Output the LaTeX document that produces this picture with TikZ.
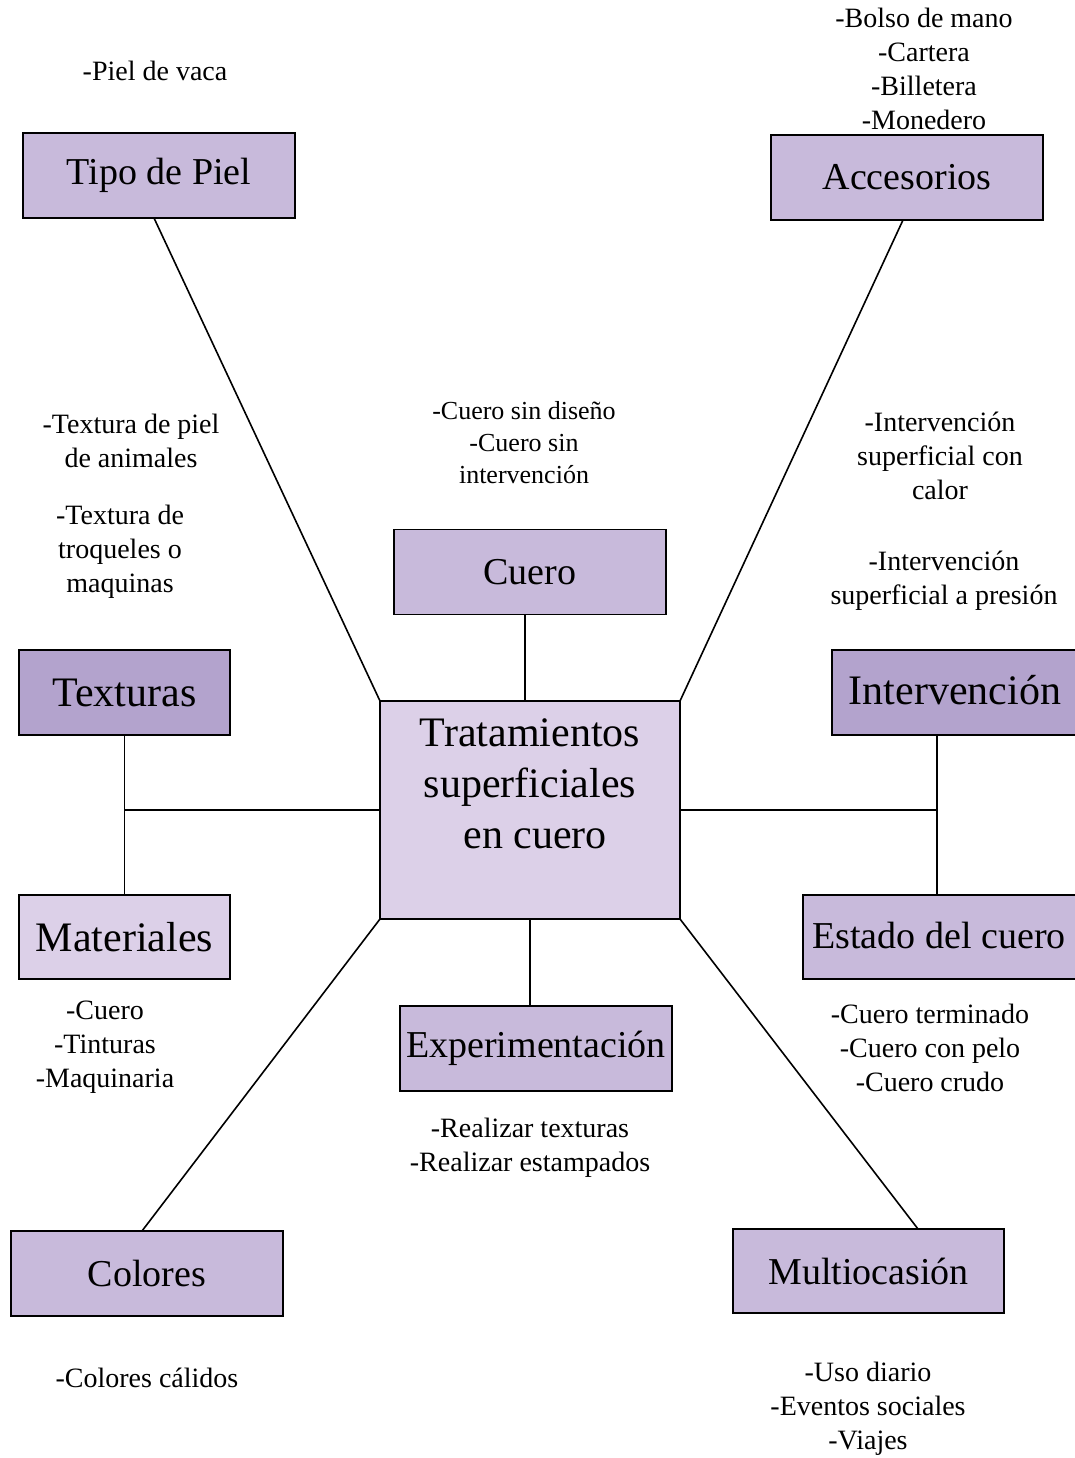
\documentclass[tikz,border=0pt]{standalone}
\usepackage{fontspec}
\setmainfont{Liberation Serif}
\definecolor{boxmid}{HTML}{C8BADB}
\definecolor{boxdark}{HTML}{B3A3CD}
\definecolor{boxlight}{HTML}{DCD0E8}
\begin{document}
\begin{tikzpicture}[x=1pt,y=-1pt,
  box/.style={draw=black,line width=1.6pt,rectangle,inner sep=0pt,outer sep=0pt,
    minimum width=272pt,minimum height=85pt,fill=boxmid,
    font=\fontsize{38}{44}\selectfont},
  bigbox/.style={box,font=\fontsize{42}{48}\selectfont},
  note/.style={align=center,inner sep=0pt,font=\fontsize{28}{34}\selectfont},
  link/.style={line width=1.6pt,black}]
\useasboundingbox (0,0) rectangle (1075,1458);
\fill[white] (0,0) rectangle (1075,1458);
% boxes
\node[box] (tipo) at (159,175.5) {Tipo de Piel};
\node[box] (acc) at (907,177.5) {Accesorios};
\node[box] (cuero) at (530,572) {Cuero};
\node[box,fill=boxlight,minimum width=300pt,minimum height=218pt] (center) at (530,810) {};
\node[align=center,inner sep=0pt,font=\fontsize{42}{51}\selectfont] (ctext) at (530,784) {Tratamientos\\superficiales\\\ en cuero};
\node[bigbox,fill=boxdark,minimum width=211pt] (tex) at (124.5,692.5) {Texturas};
\node[bigbox,fill=boxlight,minimum width=211pt,minimum height=84pt] (mat) at (124.5,937) {Materiales};
\node[box,fill=boxdark,minimum width=250pt] (int) at (957,692.5) {};
\node[font=\fontsize{42}{48}\selectfont,inner sep=0pt] (inttext) at (955,690) {Intervención};
\node[box,minimum width=280pt,minimum height=84pt] (est) at (943,937) {};
\node[font=\fontsize{38}{44}\selectfont,inner sep=0pt] (esttext) at (939,935) {Estado del cuero};
\node[box] (exp) at (536,1048.5) {Experimentación};
\node[box] (col) at (147,1273.5) {Colores};
\node[box,minimum width=271pt,minimum height=84pt] (mult) at (868.5,1271) {Multiocasión};
% connectors
\draw[link] ([xshift=-5pt]tipo.south) -- (center.north west);
\draw[link] ([xshift=-4pt]acc.south) -- (center.north east);
\draw[link] ([xshift=-5pt]cuero.south) -- ([xshift=-5pt]center.north);
\draw[link] (tex.south) -- (mat.north);
\coordinate (tj) at (tex.south |- center.west);
\draw[link] (center.west) -- (tj);
\coordinate (ij) at (937,810);
\draw[link] (int.south -| ij) -- (est.north -| ij);
\draw[link] (center.east) -- (ij);
\draw[link] (center.south) -- (center.south |- exp.north);
\draw[link] ([xshift=-5pt]col.north) -- (center.south west);
\draw[link] ([xshift=49.5pt]mult.north) -- (center.south east);
% notes
\node[note] (n1) at (155,71) {-Piel de vaca};
\node[note] (n2) at (924,69) {-Bolso de mano\\-Cartera\\-Billetera\\-Monedero};
\node[note] (n3) at (131,441) {-Textura de piel\\de animales};
\node[note] (n4) at (120,552) {-Textura de\\troqueles o\\maquinas};
\node[note,font=\fontsize{26}{32}\selectfont] (n5) at (524,442.5) {-Cuero sin diseño\\-Cuero sin\\intervención};
\node[note] (n6) at (940,456) {-Intervención\\superficial con\\calor};
\node[note] (n7) at (944,581) {-Intervención\\superficial a presión};
\node[note] (n8) at (105,1047) {-Cuero\\-Tinturas\\-Maquinaria};
\node[note] (n9) at (930,1048) {-Cuero terminado\\-Cuero con pelo\\-Cuero crudo};
\node[note] (n10) at (530,1148) {-Realizar texturas\\-Realizar estampados};
\node[note] (n11) at (147,1378) {-Colores cálidos};
\node[note] (n12) at (868,1409) {-Uso diario\\-Eventos sociales\\-Viajes};
\end{tikzpicture}
\end{document}
